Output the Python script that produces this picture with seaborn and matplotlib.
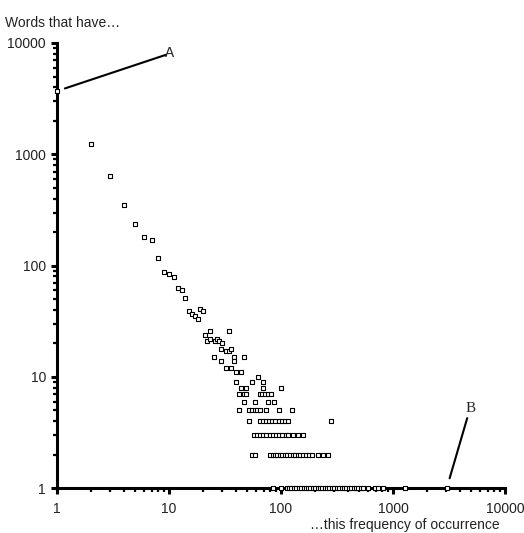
import matplotlib
matplotlib.use("Agg")
import matplotlib.pyplot as plt
import pandas as pd
import seaborn as sns
from matplotlib.ticker import LogLocator, FuncFormatter, NullFormatter

# Head of the distribution: how many words occur exactly f times
head_freq = [1, 2, 3, 4, 5, 6, 7, 8, 9, 10, 11, 12, 13, 14, 15, 16, 17, 18, 19, 20,
             21, 22, 23, 23, 26, 27, 28, 34, 30, 29, 32, 34, 36,
             25, 29, 38, 38, 47, 32, 36, 40, 44, 62,
             40, 55, 69, 44, 49, 69, 101]
head_count = [3700, 1250, 644, 351, 238, 181, 171, 117, 88, 84, 79, 63, 60, 51, 39, 37, 35, 33, 41, 39,
              24, 21, 26, 22, 21, 22, 21, 26, 20, 18, 17, 17, 18,
              15, 14, 15, 14, 15, 12, 12, 11, 11, 10,
              9, 9, 9, 8, 8, 8, 8]

# Frequencies shared by exactly 7, 6, 5, 4, 3, 2 and 1 words
freq_with_7 = [42, 47, 49, 65, 68, 72, 76, 81]
freq_with_6 = [47, 58, 77, 86]
freq_with_5 = [42, 52, 55, 58, 61, 65, 73, 96, 126]
freq_with_4 = [52, 65, 69, 73, 78, 83, 89, 95, 102, 109, 116, 282]
freq_with_3 = [57, 61, 65, 69, 74, 79, 84, 90, 96, 103, 110, 116, 129, 142, 158]
freq_with_2 = [55, 59, 80, 84, 88, 93, 98, 103, 108, 114, 120, 127, 134, 141, 149,
               158, 168, 179, 189, 215, 238, 263]
freq_with_1 = [85, 101, 113, 118, 124, 131, 137, 144, 151, 159, 166, 175, 183, 192,
               202, 212, 223, 234, 246, 258, 271, 285, 299, 314, 330, 347, 364, 383,
               402, 422, 444, 466, 490, 515, 540, 598, 691, 735, 814, 1279, 3016]

tick_values = [1, 10, 100, 1000, 10000]

rows = [pd.DataFrame({"frequency": head_freq, "words": head_count})]
for n, freqs in [(7, freq_with_7), (6, freq_with_6), (5, freq_with_5), (4, freq_with_4),
                 (3, freq_with_3), (2, freq_with_2), (1, freq_with_1)]:
    rows.append(pd.DataFrame({"frequency": freqs, "words": [n] * len(freqs)}))
df = pd.concat(rows, ignore_index=True)

sns.set_style("ticks")
plt.rcParams["font.family"] = ["Liberation Sans", "DejaVu Sans"]

fig = plt.figure(figsize=(5.24, 5.33), dpi=100)
ax = fig.add_axes([57 / 524, 44.7 / 533, 448 / 524, 445.3 / 533])

sns.scatterplot(data=df, x="frequency", y="words", ax=ax, marker="s", s=11,
                facecolor="white", edgecolor="black", linewidth=0.8, legend=False)
pts = ax.collections[-1]
pts.set_clip_on(False)
pts.set_zorder(5)

ax.set_xscale("log")
ax.set_yscale("log")
ax.set_xlim(1, 10000)
ax.set_ylim(1, 10000)

fmt = FuncFormatter(lambda v, _: f"{int(round(v))}")
for axis in (ax.xaxis, ax.yaxis):
    axis.set_major_locator(LogLocator(base=10, numticks=10))
    axis.set_minor_locator(LogLocator(base=10, subs=range(2, 10), numticks=20))
    axis.set_major_formatter(fmt)
    axis.set_minor_formatter(NullFormatter())
ax.set_xticks(tick_values)
ax.set_yticks(tick_values)

for side in ("top", "right"):
    ax.spines[side].set_visible(False)
for side in ("left", "bottom"):
    ax.spines[side].set_linewidth(2.2)
    ax.spines[side].set_color("black")

ax.tick_params(which="major", length=4.3, width=2.2, color="black", labelsize=10,
               labelcolor="#222222")
ax.tick_params(which="minor", length=3.0, width=1.6, color="black")
ax.tick_params(axis="x", which="major", pad=5.5)
ax.tick_params(axis="y", which="major", pad=3.6)
ax.set_xlabel("")
ax.set_ylabel("")

fig.text(5 / 524, 1 - 27 / 533, "Words that have\u2026", ha="left", va="baseline",
         fontsize=10, color="#222222")
fig.text(500 / 524, 1 - 529 / 533, "\u2026this frequency of occurrence", ha="right",
         va="baseline", fontsize=10, color="#222222")

# Labelled call-outs: the most common frequency (A) and the most frequent word (B)
ax.annotate("A", xy=(head_freq[0], head_count[0]), xytext=(81.4, 27.1),
            textcoords="offset points", ha="center", va="center", fontsize=11,
            family=["Liberation Mono", "DejaVu Sans Mono"],
            arrowprops=dict(arrowstyle="-", lw=1.5, color="black", patchA=None,
                            shrinkA=3.2, shrinkB=6.0))
ax.annotate("B", xy=(freq_with_1[-1], 1), xytext=(16.9, 57.8),
            textcoords="offset points", ha="center", va="center", fontsize=11,
            family=["Liberation Serif", "DejaVu Serif"],
            arrowprops=dict(arrowstyle="-", lw=1.5, color="black", patchA=None,
                            shrinkA=7.6, shrinkB=7.5), annotation_clip=False)

fig.savefig("out.png", dpi=100, facecolor="white")
